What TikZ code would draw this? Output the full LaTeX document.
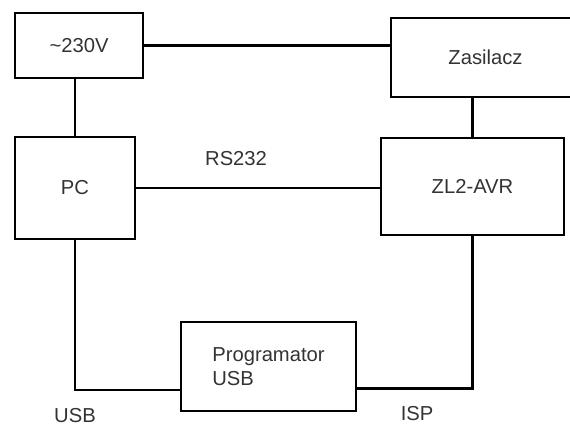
\documentclass[tikz,border=0pt]{standalone}
\usepackage{fontspec}
\setmainfont{Liberation Sans}
\usepackage{tikz}
\usetikzlibrary{positioning}

\begin{document}
\begin{tikzpicture}[
        x=0.02cm, y=-0.02cm,
        font=\fontsize{11.5}{14}\selectfont,
        box/.style={draw, line width=1.3pt, text=black!80, inner sep=0pt},
        link/.style={line width=1.3pt},
        lbl/.style={text=black!80, inner sep=2pt}
    ]
    \path[use as bounding box, clip] (0,0) rectangle (570,427);
    \node[box, minimum width=2.56cm, minimum height=1.3cm] (mains) at (79,45.5) {\textasciitilde230V};
    \node[box, minimum width=3.78cm, minimum height=1.58cm] (psu) at (485.5,57.5) {Zasilacz\hspace{0.3cm}};
    \node[box, minimum width=2.4cm, minimum height=2.04cm] (pc) at (75,188) {PC};
    \node[box, minimum width=3.66cm, minimum height=1.94cm] (avr) at (472.5,186.5) {ZL2-AVR};
    \node[box, minimum width=3.5cm, minimum height=1.78cm, align=left] (prog) at (268.5,366.5) {Programator\\USB};
    \draw[link] (mains.east) -- (mains.east -| psu.west);
    \draw[link] (pc.north) -- (pc.north |- mains.south);
    \draw[link] (avr.north) -- (avr.north |- psu.south);
    \draw[link] (pc.east) -- node[lbl, pos=0.41, above=0.35cm]{RS232} (pc.east -| avr.west);
    \draw[link] (pc.south) |- node[lbl, pos=0.5, below=0.27cm]{USB} (prog.195);
    \draw[link] (avr.south) |- node[lbl, pos=0.74, below=0.27cm]{ISP} (prog.-14);
\end{tikzpicture}
\end{document}
